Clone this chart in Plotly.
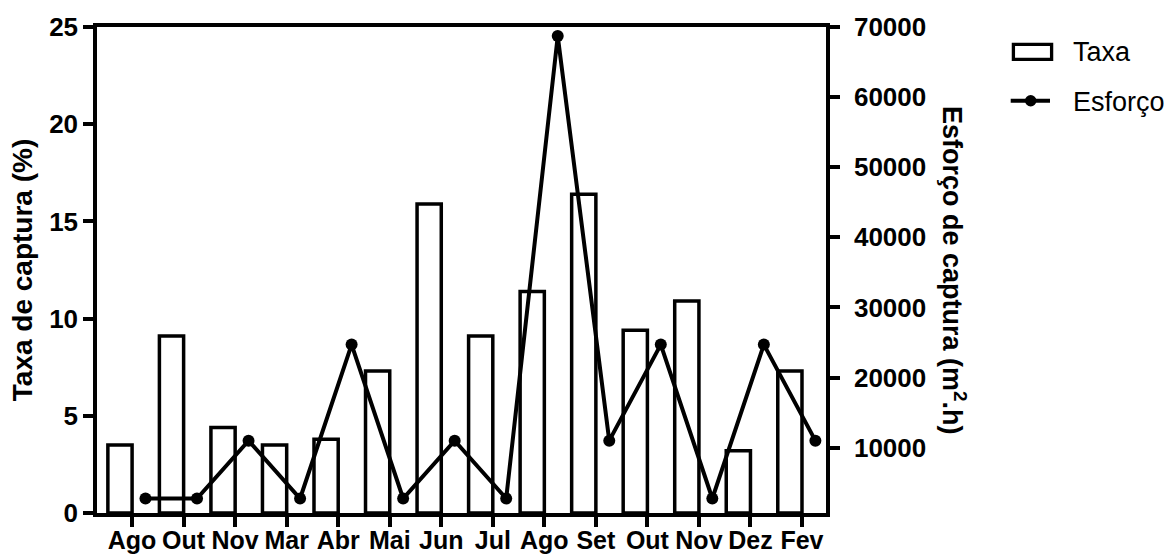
import plotly.graph_objects as go

# ---- data ----
meses = ["Ago", "Out", "Nov", "Mar", "Abr", "Mai", "Jun", "Jul",
         "Ago", "Set", "Out", "Nov", "Dez", "Fev"]
taxa = [3.5, 9.1, 4.4, 3.5, 3.8, 7.3, 15.9, 9.1, 11.4, 16.4, 9.4, 10.9, 3.2, 7.3]
esforco = [2750, 2750, 11000, 2750, 24700, 2750, 11000, 2750,
           68700, 11000, 24700, 2750, 24700, 11000]
taxa_ticks = [0, 5, 10, 15, 20, 25]
esforco_ticks = [10000, 20000, 30000, 40000, 50000, 60000, 70000]
series_names = ["Taxa", "Esforço"]

# ---- style / layout constants ----
FONT = "Liberation Sans, Arial, sans-serif"
BAR_OFFSET = -0.47
BAR_WIDTH = 0.47
POINT_SHIFT = 0.26
LW = 3.5
W, H = 1169, 555
ML, MR, MT, MB = 97, 343, 27, 42
PW, PH = W - ML - MR, H - MT - MB


def px(x):
    return (x - ML) / PW


def py(y):
    return (H - MB - y) / PH


pos = list(range(len(meses)))

fig = go.Figure()
fig.add_trace(go.Bar(
    x=pos, y=taxa, name=series_names[0],
    offset=BAR_OFFSET, width=BAR_WIDTH,
    marker=dict(color="white", line=dict(color="black", width=LW)),
    showlegend=False,
))
fig.add_trace(go.Scatter(
    x=[p + POINT_SHIFT for p in pos], y=esforco, name=series_names[1],
    yaxis="y2", mode="lines+markers",
    line=dict(color="black", width=4),
    marker=dict(color="black", size=12),
    showlegend=False,
))

tickfont = dict(family=FONT, size=26, color="black", weight="bold")
xtickfont = dict(family=FONT, size=25, color="black", weight="bold")

# legend drawn as key shapes + labels
shapes = [
    dict(type="rect", xref="paper", yref="paper",
         x0=px(1013.4), x1=px(1051.6), y0=py(59.3), y1=py(44.4),
         line=dict(color="black", width=3.3), fillcolor="white"),
    dict(type="line", xref="paper", yref="paper",
         x0=px(1010.7), x1=px(1050), y0=py(100.7), y1=py(100.7),
         line=dict(color="black", width=4)),
    dict(type="circle", xref="paper", yref="paper",
         x0=px(1025), x1=px(1036.4), y0=py(106.4), y1=py(95),
         line=dict(color="black", width=0), fillcolor="black"),
]
legend_labels = [
    dict(text=series_names[0], xref="paper", yref="paper",
         x=px(1071), y=py(51.7), xanchor="left", yanchor="middle",
         showarrow=False, font=dict(family=FONT, size=27, color="black")),
    dict(text=series_names[1], xref="paper", yref="paper",
         x=px(1071), y=py(101.7), xanchor="left", yanchor="middle",
         showarrow=False, font=dict(family=FONT, size=27, color="black")),
]

fig.update_layout(
    template="none",
    width=W, height=H, autosize=False,
    margin=dict(l=ML, r=MR, t=MT, b=MB, pad=0),
    paper_bgcolor="white", plot_bgcolor="white",
    font=dict(family=FONT, color="black"),
    showlegend=False,
    xaxis=dict(
        range=[-0.681, 13.466], tickmode="array", tickvals=pos, ticktext=meses,
        showline=True, linecolor="black", linewidth=LW, mirror=True,
        ticks="outside", ticklen=10, tickwidth=LW, tickcolor="black",
        tickfont=xtickfont, ticklabelstandoff=-8,
        showgrid=False, zeroline=False, automargin=False,
    ),
    yaxis=dict(
        range=[0, 25], tickmode="array", tickvals=taxa_ticks,
        showline=True, linecolor="black", linewidth=LW,
        ticks="outside", ticklen=10, tickwidth=LW, tickcolor="black",
        tickfont=tickfont, showgrid=False, zeroline=False, automargin=False,
        title=dict(text="Taxa de captura (%)", standoff=9,
                   font=dict(family=FONT, size=28, color="black", weight="bold")),
    ),
    yaxis2=dict(
        overlaying="y", side="right", range=[680, 70000],
        tickmode="array", tickvals=esforco_ticks,
        ticktext=[str(v) for v in esforco_ticks],
        showline=True, linecolor="black", linewidth=LW,
        ticks="outside", ticklen=10, tickwidth=LW, tickcolor="black",
        tickfont=tickfont, ticklabelstandoff=9,
        showgrid=False, zeroline=False, automargin=False,
    ),
    shapes=shapes,
    annotations=legend_labels + [dict(
        text="Esforço de captura (m<sup>2</sup>.h)",
        xref="paper", yref="paper", x=px(954), y=0.5,
        xanchor="center", yanchor="middle", textangle=90, showarrow=False,
        font=dict(family=FONT, size=27, color="black", weight="bold"),
    )],
)

fig.write_html("out.html")
